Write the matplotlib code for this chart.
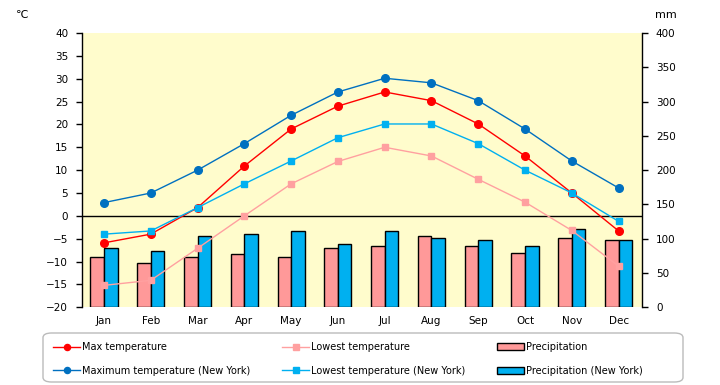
import matplotlib
matplotlib.use('Agg')
import matplotlib.pyplot as plt
from matplotlib.patches import FancyBboxPatch
import numpy as np

months = ['Jan', 'Feb', 'Mar', 'Apr', 'May', 'Jun', 'Jul', 'Aug', 'Sep', 'Oct', 'Nov', 'Dec']

# temperatures (C)
max_temp = [-5.9, -4.0, 1.8, 10.9, 19.0, 24.0, 27.1, 25.2, 20.1, 13.1, 5.0, -3.3]
low_temp = [-15.2, -14.1, -7.1, 0.0, 7.0, 11.9, 15.0, 13.1, 8.0, 3.0, -3.2, -11.0]
max_temp_ny = [2.9, 5.0, 10.0, 15.8, 22.0, 27.1, 30.1, 29.1, 25.2, 19.0, 12.0, 6.1]
low_temp_ny = [-4.0, -3.3, 1.8, 7.0, 12.0, 17.1, 20.1, 20.1, 15.8, 10.0, 5.0, -1.2]

# precipitation (mm)
precip = [73, 64, 73, 77, 74, 86, 89, 104, 89, 79, 101, 98]
precip_ny = [86, 82, 104, 107, 111, 92, 111, 101, 98, 89, 114, 98]

plt.rcParams['font.family'] = ['DejaVu Sans']
plt.rcParams['font.size'] = 7.5

fig = plt.figure(figsize=(7.2, 3.85), dpi=100)
ax = fig.add_axes([82/720, 1 - 307.3/385, 560/720, 274.3/385])
ax2 = ax.twinx()

# bars behind lines
ax.set_zorder(ax2.get_zorder() + 1)
ax.patch.set_visible(False)
ax2.patch.set_visible(True)
ax2.patch.set_facecolor('#FFFCCC')

x = np.arange(len(months))
w = 0.29
b1 = ax2.bar(x - w/2, precip, w, color='#FF9999', edgecolor='black', linewidth=1, label='Precipitation')
b2 = ax2.bar(x + w/2, precip_ny, w, color='#00B0F0', edgecolor='black', linewidth=1, label='Precipitation (New York)')
ax2.set_ylim(0, 400)
ax2.set_yticks(range(0, 401, 50))

ax.axhline(0, color='black', linewidth=1, zorder=1)
l1, = ax.plot(x, max_temp, color='#FF0000', marker='o', markersize=5.5, linewidth=1, label='Max temperature')
l2, = ax.plot(x, low_temp, color='#FFA0A0', marker='s', markersize=5, linewidth=1, label='Lowest temperature')
l3, = ax.plot(x, max_temp_ny, color='#0070C0', marker='o', markersize=5.5, linewidth=1, label='Maximum temperature (New York)')
l4, = ax.plot(x, low_temp_ny, color='#00B0F0', marker='s', markersize=5, linewidth=1, label='Lowest temperature (New York)')

ax.set_ylim(-20, 40)
ax.set_yticks(range(-20, 41, 5))
ax.set_xlim(-0.47, 11.5)
ax.set_xticks(x)
ax.set_xticklabels(months)
ax.tick_params(axis='x', length=0, pad=6)
ax.tick_params(axis='y', length=4, width=1, pad=6)
ax2.tick_params(axis='y', length=4, width=1, pad=6)

for a in (ax, ax2):
    a.spines['top'].set_visible(False)
    a.spines['bottom'].set_visible(False)
ax.spines['left'].set_linewidth(1)
ax2.spines['right'].set_linewidth(1)
ax2.spines['left'].set_visible(False)
ax.spines['right'].set_visible(False)

fig.text(22/720, 1 - 15/385, '℃', ha='center', va='center', fontsize=8)
fig.text(666/720, 1 - 15/385, 'mm', ha='center', va='center', fontsize=8)

# legend box
box = FancyBboxPatch((43/720, 3/385), 640/720, 49/385, transform=fig.transFigure,
                     boxstyle='round,pad=0,rounding_size=0.012', facecolor='white',
                     edgecolor='#BBBBBB', linewidth=1)
fig.patches.append(box)

handles = [l1, l3, l2, l4, b1, b2]
leg = fig.legend(handles, [h.get_label() for h in handles],
                 loc='upper left', bbox_to_anchor=(51/720, 1 - 340/385),
                 ncol=3, fontsize=7, handlelength=2.8, markerscale=0.8,
                 handletextpad=0.15, labelspacing=1.4, columnspacing=3.3,
                 borderaxespad=0, borderpad=0.2, frameon=False)

fig.savefig('out.png', dpi=100)
